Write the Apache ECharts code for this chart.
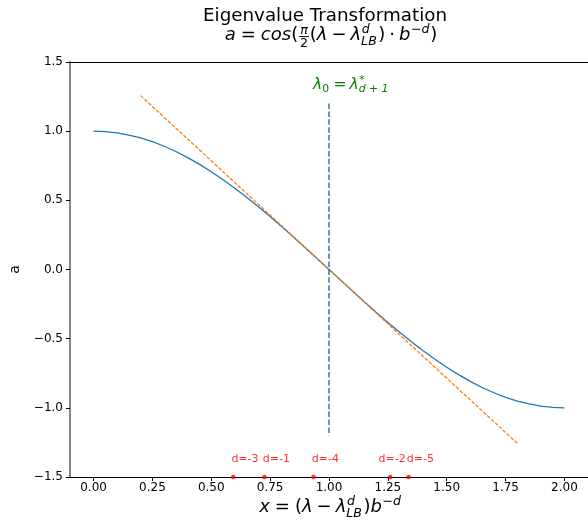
<!DOCTYPE html>
<html>
<head>
<meta charset="utf-8">
<script src="https://cdn.jsdelivr.net/npm/echarts@6/dist/echarts.min.js"></script>
<style>
  html, body { margin: 0; padding: 0; background: #ffffff; }
  #chart { width: 588px; height: 520px; }
</style>
</head>
<body>
<div id="chart"></div>
<script>
// Transformed eigenvalue curve, sampled every 0.05 along x
const curveX = [0.00, 0.05, 0.10, 0.15, 0.20, 0.25, 0.30, 0.35, 0.40, 0.45,
                0.50, 0.55, 0.60, 0.65, 0.70, 0.75, 0.80, 0.85, 0.90, 0.95,
                1.00, 1.05, 1.10, 1.15, 1.20, 1.25, 1.30, 1.35, 1.40, 1.45,
                1.50, 1.55, 1.60, 1.65, 1.70, 1.75, 1.80, 1.85, 1.90, 1.95, 2.00];
const curveA = [1.000, 0.997, 0.988, 0.972, 0.951, 0.924, 0.891, 0.853, 0.809, 0.760,
                0.707, 0.649, 0.588, 0.523, 0.454, 0.383, 0.309, 0.233, 0.156, 0.078,
                0.000, -0.078, -0.156, -0.233, -0.309, -0.383, -0.454, -0.523, -0.588, -0.649,
                -0.707, -0.760, -0.809, -0.853, -0.891, -0.924, -0.951, -0.972, -0.988, -0.997, -1.000];

// Linear approximation through the midpoint
const tangentX = [0.2, 1.8];
const tangentA = [1.257, -1.257];

// Vertical marker at lambda_0
const markerX = [1.0, 1.0];
const markerA = [1.2, -1.2];

// Depth samples sitting on the lower edge
const depthNames = ['d=-3', 'd=-1', 'd=-4', 'd=-2', 'd=-5'];
const depthX = [0.593, 0.726, 0.934, 1.260, 1.338];
const depthA = [-1.5, -1.5, -1.5, -1.5, -1.5];

// Tick values
const xTicks = [0, 0.25, 0.5, 0.75, 1.0, 1.25, 1.5, 1.75, 2.0];
const yTicks = [-1.5, -1.0, -0.5, 0, 0.5, 1.0, 1.5];

const FONT = 'DejaVu Sans';
const meas = document.createElement('canvas').getContext('2d');
function textW(t, size, italic) {
  meas.font = (italic ? 'italic ' : '') + size + 'px "' + FONT + '"';
  return meas.measureText(t).width;
}

// Lay out a small math expression: plain runs, stacked scripts and fractions
function mathRow(items, S) {
  const s = 0.7 * S;
  const els = [], bars = [];
  let x = 0;
  items.forEach(function (it) {
    if (it.frac) {
      const wn = textW(it.frac[0], s, true), wd = textW(it.frac[1], s, false);
      const fw = Math.max(wn, wd) + 0.2 * S;
      const barY = -0.3 * S;
      els.push({ t: it.frac[0], x: x + (fw - wn) / 2, base: barY - 0.1 * S, size: s, it: true });
      els.push({ t: it.frac[1], x: x + (fw - wd) / 2, base: barY + 0.1 * S + 0.73 * s, size: s, it: false });
      bars.push({ x: x + 0.05 * S, y: barY, w: fw - 0.1 * S });
      x += fw;
    } else if (it.sup !== undefined || it.sub !== undefined) {
      let adv = 0;
      if (it.sup !== undefined) {
        const supIt = it.supIt !== false;
        els.push({ t: it.sup, x: x + 0.04 * S, base: -0.42 * S, size: s, it: supIt });
        adv = Math.max(adv, textW(it.sup, s, supIt));
      }
      if (it.sub !== undefined) {
        const subIt = it.subIt !== false;
        els.push({ t: it.sub, x: x, base: 0.22 * S, size: s, it: subIt });
        adv = Math.max(adv, textW(it.sub, s, subIt));
      }
      x += adv + 0.08 * S;
    } else {
      const pad = (it.pad || 0) * S;
      x += pad;
      els.push({ t: it.t, x: x, base: 0, size: S, it: !!it.it });
      x += textW(it.t, S, !!it.it) + pad;
    }
  });
  return { els: els, bars: bars, width: x };
}

function placeMath(items, S, anchorX, baseY, color, align) {
  const r = mathRow(items, S);
  const x0 = align === 'center' ? anchorX - r.width / 2 : anchorX;
  const out = r.els.map(function (e) {
    return {
      type: 'text', silent: true, z: 100,
      x: x0 + e.x, y: baseY + e.base - 0.346 * e.size,
      style: {
        text: e.t, fontFamily: FONT, fontSize: e.size,
        fontStyle: e.it ? 'italic' : 'normal',
        fill: color, align: 'left', verticalAlign: 'middle'
      }
    };
  });
  r.bars.forEach(function (b) {
    out.push({
      type: 'rect', silent: true, z: 100,
      shape: { x: x0 + b.x, y: baseY + b.y - 0.5, width: b.w, height: 1 },
      style: { fill: color }
    });
  });
  return out;
}

const titleFormula = [
  { t: 'a', it: true }, { t: '=', pad: 0.28 }, { t: 'cos', it: true }, { t: '(' },
  { frac: ['π', '2'] }, { t: '(' }, { t: 'λ', it: true }, { t: '−', pad: 0.22 },
  { t: 'λ', it: true }, { sup: 'd', sub: 'LB' }, { t: ')' }, { t: '·', pad: 0.22 },
  { t: 'b', it: true }, { sup: '−d' }, { t: ')' }
];
const xLabelFormula = [
  { t: 'x', it: true }, { t: '=', pad: 0.28 }, { t: '(' }, { t: 'λ', it: true },
  { t: '−', pad: 0.22 }, { t: 'λ', it: true }, { sup: 'd', sub: 'LB' }, { t: ')' },
  { t: 'b', it: true }, { sup: '−d' }
];
const lambdaLabel = [
  { t: 'λ', it: true }, { sub: '0', subIt: false }, { t: '=', pad: 0.2 },
  { t: 'λ', it: true }, { sup: '*', supIt: false, sub: 'd + 1' }
];

const graphics = []
  .concat(placeMath([{ t: 'Eigenvalue Transformation' }], 18.3, 325, 23, '#000000', 'center'))
  .concat(placeMath(titleFormula, 18, 331, 42, '#000000', 'center'))
  .concat(placeMath(xLabelFormula, 18, 330.5, 514, '#000000', 'center'))
  .concat(placeMath(lambdaLabel, 15.5, 313, 90, '#008000', 'left'));

function fmtY(v) {
  return (v < 0 ? '−' : '') + Math.abs(v).toFixed(1);
}

// Horizontal nudge for labels that would otherwise collide
const labelNudge = { 'd=-2': -9.5 };

const chart = echarts.init(document.getElementById('chart'), null, { renderer: 'canvas' });
chart.setOption({
  animation: false,
  backgroundColor: '#ffffff',
  textStyle: { fontFamily: FONT },
  grid: { left: 69, right: -2, top: 62, bottom: 43, containLabel: false },
  xAxis: [{
    type: 'value', min: -0.1, max: 2.1,
    axisLine: { show: true, onZero: false, lineStyle: { color: '#000000', width: 1 } },
    axisTick: { show: true, length: 4, customValues: xTicks, lineStyle: { color: '#000000', width: 1 } },
    axisLabel: {
      show: true, customValues: xTicks, margin: 4.5, fontSize: 12, lineHeight: 12, color: '#000000',
      formatter: function (v) { return v.toFixed(2); }
    },
    splitLine: { show: false }
  }, {
    type: 'value', min: -0.1, max: 2.1, position: 'top',
    axisLine: { show: true, onZero: false, lineStyle: { color: '#000000', width: 1 } },
    axisTick: { show: false }, axisLabel: { show: false }, splitLine: { show: false }
  }],
  yAxis: [{
    type: 'value', min: -1.5, max: 1.5, interval: 0.5,
    name: 'a', nameLocation: 'middle', nameRotate: 90, nameGap: 48,
    nameTextStyle: { fontFamily: FONT, fontSize: 14, color: '#000000' },
    axisLine: { show: true, onZero: false, lineStyle: { color: '#858585', width: 2 } },
    axisTick: { show: true, length: 4, lineStyle: { color: '#000000', width: 1 } },
    axisLabel: { show: true, margin: 7, fontSize: 12, color: '#000000', formatter: fmtY },
    splitLine: { show: false }
  }],
  series: [
    {
      type: 'line', name: 'curve', showSymbol: false, symbol: 'none',
      data: curveX.map(function (x, i) { return [x, curveA[i]]; }),
      lineStyle: { color: '#1f77b4', width: 1.3 }, z: 3
    },
    {
      type: 'line', name: 'tangent', showSymbol: false, symbol: 'none',
      data: tangentX.map(function (x, i) { return [x, tangentA[i]]; }),
      lineStyle: { color: '#ff7f0e', width: 1.3, type: [3.7, 1.6] }, z: 3
    },
    {
      type: 'line', name: 'lambda0', showSymbol: false, symbol: 'none',
      data: markerX.map(function (x, i) { return [x, markerA[i]]; }),
      lineStyle: { color: '#2a6a9a', width: 1.4, type: [5.5, 2.4] }, z: 3
    },
    {
      type: 'scatter', name: 'depths', symbol: 'circle', symbolSize: 4.5, clip: false,
      itemStyle: { color: '#ff0000' }, z: 5,
      data: depthX.map(function (x, i) {
        const item = { value: [x, depthA[i]], name: depthNames[i] };
        if (labelNudge[depthNames[i]] !== undefined) {
          item.label = { position: [labelNudge[depthNames[i]], -15.4] };
        }
        return item;
      }),
      label: {
        show: true, formatter: '{b}', position: [0.5, -15.4], align: 'left', verticalAlign: 'middle',
        color: '#ff0000', fontSize: 11, fontFamily: FONT
      }
    }
  ],
  graphic: { elements: graphics }
});
</script>
</body>
</html>
